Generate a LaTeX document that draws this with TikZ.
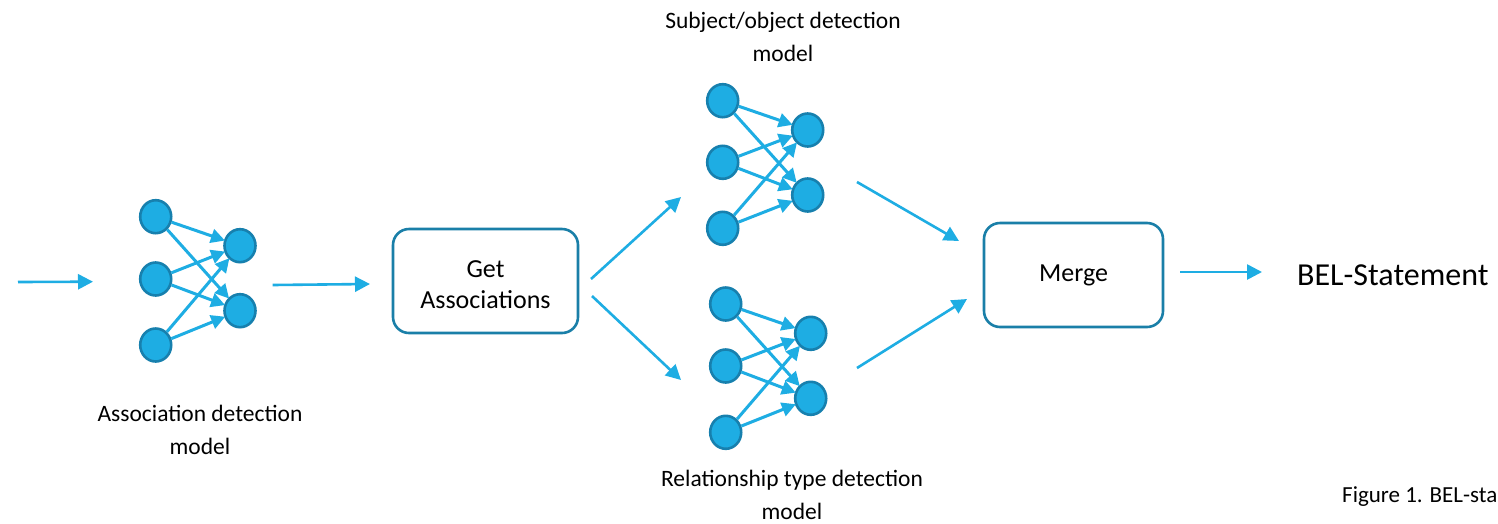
\documentclass[tikz,border=0pt]{standalone}
\usepackage{fontspec}
\setmainfont{Carlito}
\usetikzlibrary{arrows.meta,shapes.geometric}
\definecolor{nnfill}{HTML}{1EADE3}
\definecolor{nnedge}{HTML}{1780AE}
\definecolor{boxedge}{HTML}{1A7FA8}
\tikzset{
  neuron/.style={ellipse, fill=nnfill, draw=nnedge, line width=2.6pt, minimum width=31pt, minimum height=33pt, inner sep=0pt},
  link/.style={draw=nnfill, line width=3pt, -{Triangle[length=14pt,width=14pt]}, shorten >=-1pt},
  flow/.style={draw=nnfill, line width=2.6pt, -{Triangle[length=15pt,width=15pt]}},
  procbox/.style={draw=boxedge, line width=2.6pt, rounded corners=16pt, align=center, inner sep=0pt, font=\fontsize{26}{31}\selectfont},
  boxtext/.style={align=center, inner sep=0pt, font=\fontsize{26}{31}\selectfont},
  lbl/.style={align=center, inner sep=0pt, font=\fontsize{23.5}{33}\selectfont}
}
\begin{document}
\begin{tikzpicture}[x=1pt,y=-1pt]
\clip (0,0) rectangle (1498,523);
\fill[white] (0,0) rectangle (1498,523);

% network 1: association detection
\node[neuron] (pa1) at (155.7,216.7) {};
\node[neuron] (pa2) at (155.7,279) {};
\node[neuron] (pa3) at (155.7,345) {};
\node[neuron] (pb1) at (240,245.7) {};
\node[neuron] (pb2) at (240,310.7) {};

% network 2: subject/object detection
\node[neuron] (qa1) at (722.7,100.7) {};
\node[neuron] (qa2) at (722.7,162.3) {};
\node[neuron] (qa3) at (722.7,228.3) {};
\node[neuron] (qb1) at (807.7,130) {};
\node[neuron] (qb2) at (807.7,195) {};

% network 3: relationship type detection
\node[neuron] (ra1) at (725.7,304) {};
\node[neuron] (ra2) at (725.7,366) {};
\node[neuron] (ra3) at (725.7,432.3) {};
\node[neuron] (rb1) at (810.7,333.3) {};
\node[neuron] (rb2) at (810.7,398.3) {};

\foreach \p in {p,q,r}{
  \foreach \i in {1,2,3}{
    \foreach \j in {1,2}{
      \draw[link] (\p a\i) -- (\p b\j);
    }
  }
}

% boxes
\node[procbox, minimum width=185pt, minimum height=104pt] (get) at (485.5,281) {};
\node[boxtext] (gettext) at ([yshift=-4pt]get.center) {Get\\Associations};
\node[procbox, minimum width=179pt, minimum height=104pt] (merge) at (1073.5,275) {Merge};
\node[anchor=west, inner sep=0pt, font=\fontsize{32}{36}\selectfont] (bel) at (1297,275) {BEL-Statement};

% labels
\node[lbl] (l1) at (200,430) {Association detection\\model};
\node[lbl] (l2) at (783,37) {Subject/object detection\\model};
\node[lbl] (l3) at (792,495) {Relationship type detection\\model};
\node[anchor=base west, inner sep=0pt, font=\fontsize{23}{28}\selectfont] (cap) at (1342,502) {Figure 1. BEL-sta};

% flow arrows
\coordinate (i0) at (18,282);
\coordinate (i1) at (93,281.7);
\coordinate (o0) at (272.7,285);
\coordinate (o1) at (370,284);
\coordinate (u0) at (591,279);
\coordinate (u1) at (681,197);
\coordinate (d0) at (592,296);
\coordinate (d1) at (681,380);
\coordinate (m0) at (857,182);
\coordinate (m1) at (959,241);
\coordinate (n0) at (857,368);
\coordinate (n1) at (967,299);
\coordinate (s0) at (1180,272);
\coordinate (s1) at (1262,272);
\draw[flow] (i0) -- (i1);
\draw[flow] (o0) -- (o1);
\draw[flow] (u0) -- (u1);
\draw[flow] (d0) -- (d1);
\draw[flow] (m0) -- (m1);
\draw[flow] (n0) -- (n1);
\draw[flow] (s0) -- (s1);
\end{tikzpicture}
\end{document}
